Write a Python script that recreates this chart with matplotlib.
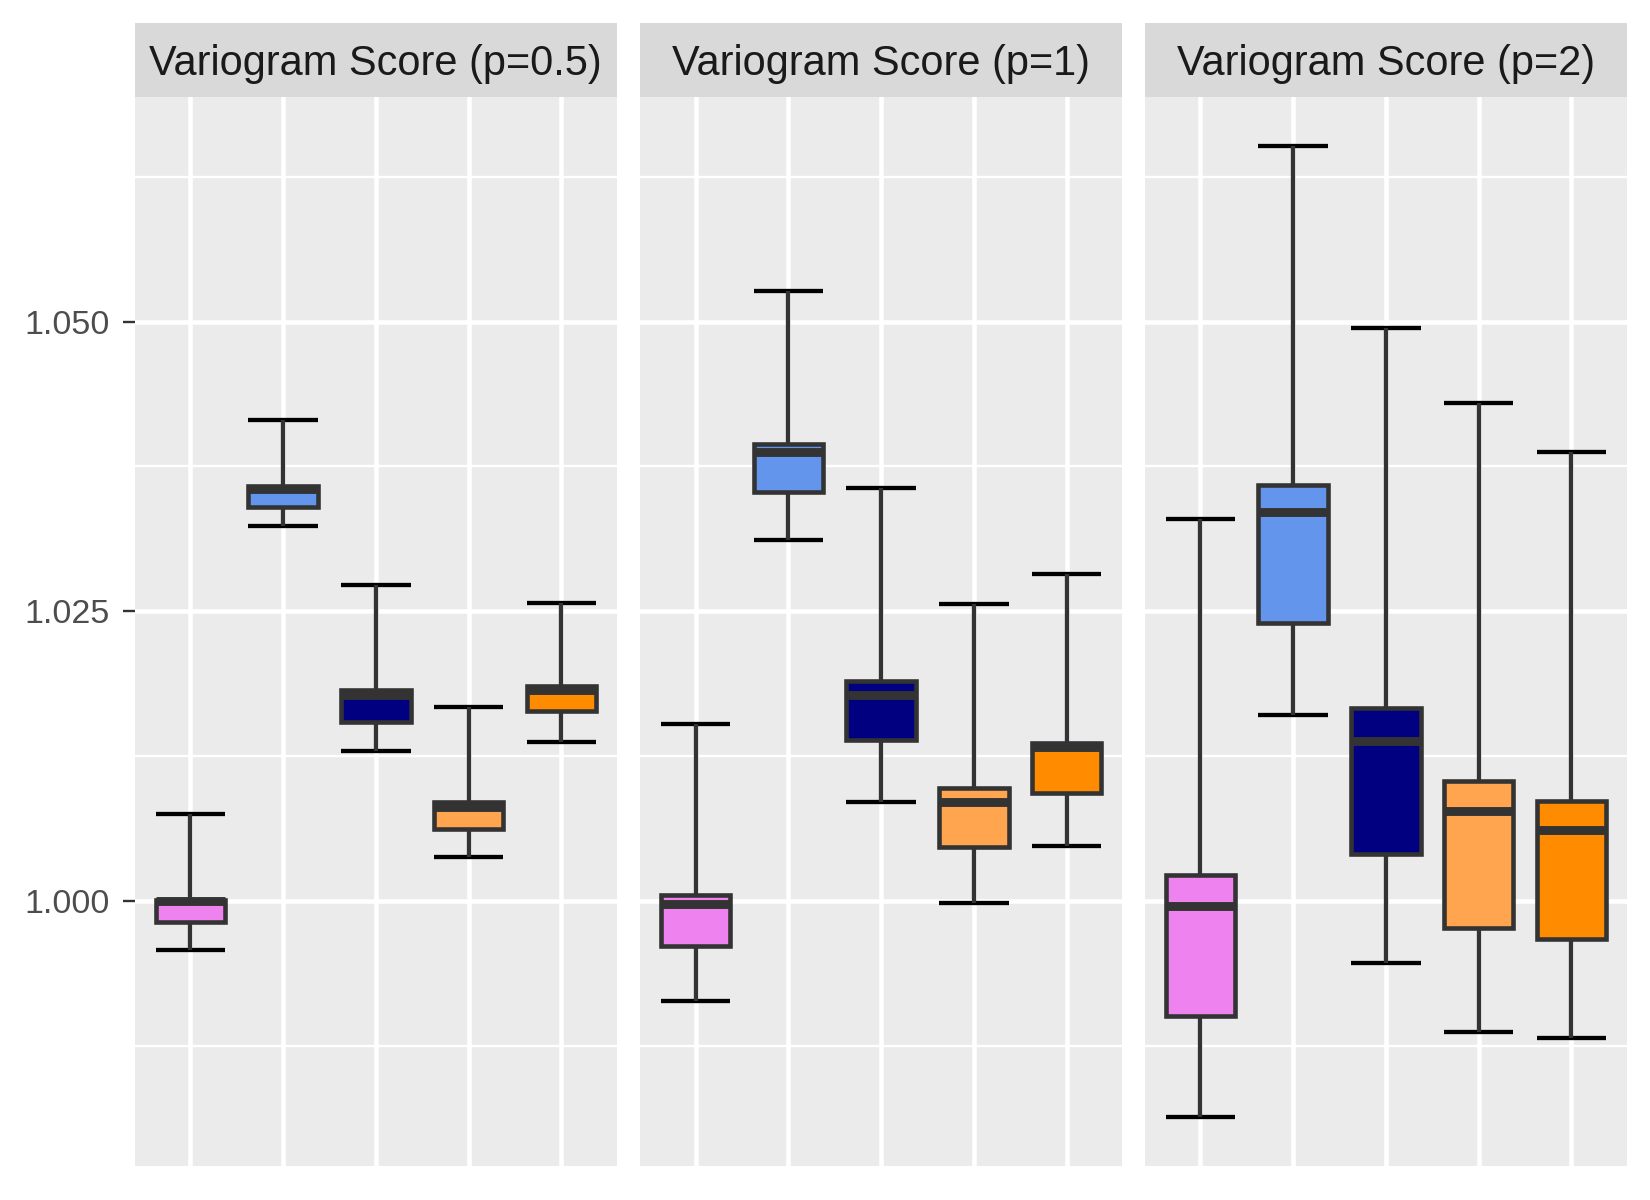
import matplotlib
matplotlib.use("Agg")
import matplotlib.pyplot as plt
import numpy as np

plt.rcParams['font.family'] = ['Liberation Sans', 'DejaVu Sans']

# facet titles and box colours (one per model)
panels = ["Variogram Score (p=0.5)", "Variogram Score (p=1)", "Variogram Score (p=2)"]
colors = ["#EE82EE", "#6495ED", "#000080", "#FFA54F", "#FF8C00"]

# box statistics, one list per panel
whislo = [[0.99580, 1.03236, 1.01293, 1.00380, 1.01373],
          [0.99134, 1.03118, 1.00858, 0.99986, 1.00475],
          [0.98132, 1.01606, 0.99465, 0.98869, 0.98814]]
q1 = [[0.99819, 1.03400, 1.01547, 1.00617, 1.01638],
      [0.99609, 1.03532, 1.01385, 1.00466, 1.00935],
      [0.99004, 1.02395, 1.00401, 0.99764, 0.99669]]
med = [[1.00000, 1.03555, 1.01779, 1.00809, 1.01822],
       [0.99971, 1.03877, 1.01774, 1.00850, 1.01325],
       [0.99957, 1.03354, 1.01379, 1.00777, 1.00610]]
q3 = [[1.00012, 1.03578, 1.01822, 1.00850, 1.01851],
      [1.00052, 1.03946, 1.01895, 1.00971, 1.01364],
      [1.00225, 1.03587, 1.01667, 1.01036, 1.00864]]
whishi = [[1.00751, 1.04151, 1.02727, 1.01670, 1.02571],
          [1.01528, 1.05265, 1.03567, 1.02562, 1.02817],
          [1.03292, 1.06518, 1.04946, 1.04298, 1.03877]]

yticks = [1.000, 1.025, 1.050]
ytick_labels = ["1.000", "1.025", "1.050"]

W, H = 1650, 1200
fig = plt.figure(figsize=(W / 100, H / 100), dpi=100)

lo = min(min(r) for r in whislo)
hi = max(max(r) for r in whishi)
pad = (hi - lo) * 0.05
ylim = (lo - pad, hi + pad)

panel_left = [134.7, 640.0, 1144.7]
panel_w = 482.3
panel_top, panel_bot = 97, 1166
strip_top = 23

for p in range(3):
    x0 = panel_left[p]
    ax = fig.add_axes([x0 / W, 1 - panel_bot / H, panel_w / W, (panel_bot - panel_top) / H])
    ax.set_facecolor("#EBEBEB")
    for s in ax.spines.values():
        s.set_visible(False)

    # grid
    minor = [(yticks[i] + yticks[i + 1]) / 2 for i in range(len(yticks) - 1)]
    minor = [yticks[0] - 0.0125] + minor + [yticks[-1] + 0.0125]
    for m in minor:
        ax.axhline(m, color="white", lw=1.7, zorder=0)
    for t in yticks:
        ax.axhline(t, color="white", lw=3.3, zorder=0)
    for i in range(1, 6):
        ax.axvline(i, color="white", lw=3.3, zorder=0)

    stats = []
    for i in range(5):
        stats.append(dict(med=med[p][i], q1=q1[p][i], q3=q3[p][i],
                          whislo=whislo[p][i], whishi=whishi[p][i], fliers=[]))
    bp = ax.bxp(stats, positions=range(1, 6), widths=0.75, capwidths=0.75,
                patch_artist=True, showfliers=False, manage_ticks=False,
                boxprops=dict(edgecolor="#333333", linewidth=3.3, joinstyle="miter"),
                whiskerprops=dict(color="#333333", linewidth=3.1, solid_capstyle="butt"),
                capprops=dict(color="black", linewidth=3.1, solid_capstyle="butt"),
                medianprops=dict(color="#333333", linewidth=6.4, solid_capstyle="butt"))
    for patch, c in zip(bp["boxes"], colors):
        patch.set_facecolor(c)
        patch.set_zorder(3)
    for w in bp["whiskers"]:
        w.set_zorder(2)
    for c in bp["caps"]:
        c.set_zorder(1.5)
    for m in bp["medians"]:
        m.set_zorder(4)

    ax.set_xlim(0.4, 5.6)
    ax.set_ylim(*ylim)
    ax.set_xticks([])
    ax.set_yticks(yticks)
    if p == 0:
        ax.set_yticklabels(ytick_labels, fontsize=24.5, color="#4D4D4D")
        ax.tick_params(axis="y", length=8.3, width=1.7, color="#333333", pad=9.5)
    else:
        ax.tick_params(axis="y", length=0, labelleft=False)

    # facet strip
    sax = fig.add_axes([x0 / W, 1 - panel_top / H, panel_w / W, (panel_top - strip_top) / H])
    sax.set_facecolor("#D9D9D9")
    for s in sax.spines.values():
        s.set_visible(False)
    sax.set_xticks([])
    sax.set_yticks([])
    sax.text(0.5, 0.45, panels[p], ha="center", va="center", fontsize=29.9,
             color="#1A1A1A", transform=sax.transAxes)

fig.savefig("out.png", dpi=100, facecolor="white")
